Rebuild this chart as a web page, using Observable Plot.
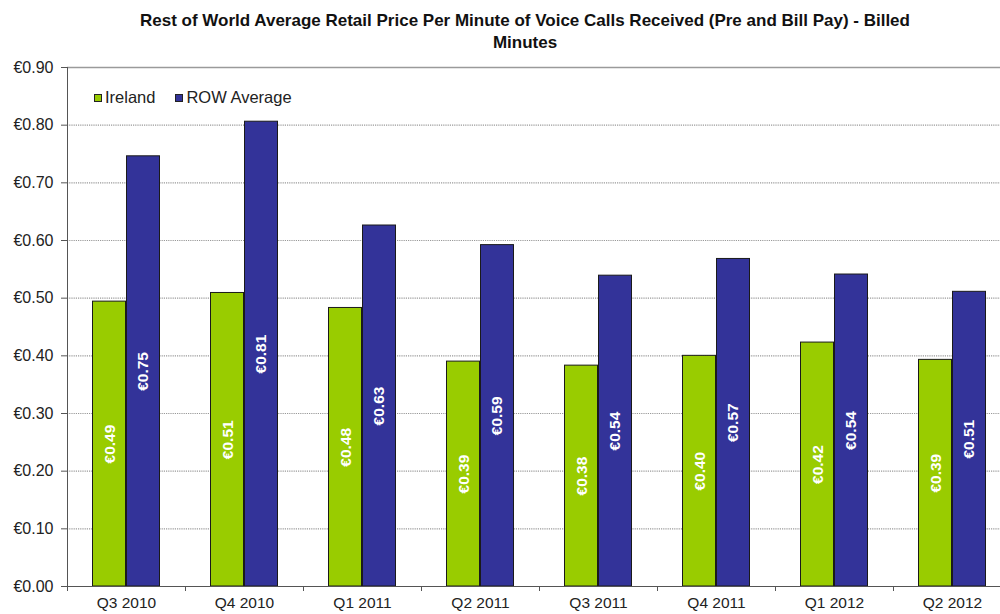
<!DOCTYPE html>
<html>
<head>
<meta charset="utf-8">
<script src="https://cdn.jsdelivr.net/npm/d3@7"></script>
<script src="https://cdn.jsdelivr.net/npm/@observablehq/plot@0.6"></script>
<style>
  html, body { margin: 0; padding: 0; background: #fff; overflow: hidden; }
  #wrap { position: relative; width: 1000px; height: 614px; font-family: "Liberation Sans", Arial, sans-serif; }
  #title { position: absolute; left: 25px; width: 1000px; top: 10px; text-align: center; font-weight: bold; font-size: 17px; line-height: 22px; color: #111; }
  #legend { position: absolute; left: 94px; top: 88px; font-size: 16.5px; color: #222; display: flex; gap: 20px; }
  #legend span.item { display: flex; align-items: center; }
  #legend span.sw { display: inline-block; width: 6px; height: 6px; border: 1px solid #222; margin-right: 3px; }
  #chart { position: absolute; left: 0; top: 55px; }
</style>
</head>
<body>
<div id="wrap">
  <div id="title">Rest of World Average Retail Price Per Minute of Voice Calls Received (Pre and Bill Pay) - Billed<br>Minutes</div>
  <div id="chart"></div>
  <div id="legend"></div>
</div>
<script>
const quarters = ["Q3 2010", "Q4 2010", "Q1 2011", "Q2 2011", "Q3 2011", "Q4 2011", "Q1 2012", "Q2 2012"];
const seriesNames = ["Ireland", "ROW Average"];
const ireland = [0.494, 0.509, 0.483, 0.390, 0.383, 0.400, 0.423, 0.393];
const rowAverage = [0.746, 0.806, 0.626, 0.592, 0.539, 0.568, 0.541, 0.511];
const yTicks = [0, 0.1, 0.2, 0.3, 0.4, 0.5, 0.6, 0.7, 0.8, 0.9];
const colors = ["#99cc00", "#333399"];

const irelandData = quarters.map((q, i) => ({quarter: q, value: ireland[i]}));
const rowData = quarters.map((q, i) => ({quarter: q, value: rowAverage[i]}));

const bandStep = 118;
const fmt = v => "€" + v.toFixed(2);

const chart = Plot.plot({
  width: 1000,
  height: 559,
  marginTop: 12,
  marginBottom: 28,
  marginLeft: 67,
  marginRight: 0,
  style: {fontFamily: "Liberation Sans, Arial, sans-serif", fontSize: "16px", color: "#222", background: "white"},
  x: {domain: quarters, range: [67, 67 + bandStep * quarters.length], padding: 0, label: null},
  y: {domain: [0, 0.9], label: null},
  marks: [
    Plot.ruleY(yTicks.filter(t => t > 0 && t < 0.9), {stroke: "#999", strokeDasharray: "1.2,1", strokeWidth: 1.2}),
    Plot.ruleY([0.9], {stroke: "#9a9a9a", strokeWidth: 1.6}),
    Plot.barY(irelandData, {x: "quarter", y: "value", fill: colors[0], stroke: "#1a1a1a", strokeWidth: 1, insetLeft: 25.5, insetRight: 59.5}),
    Plot.barY(rowData, {x: "quarter", y: "value", fill: colors[1], stroke: "#1a1a1a", strokeWidth: 1, insetLeft: 59.5, insetRight: 25.5}),
    Plot.text(irelandData, {x: "quarter", y: d => d.value / 2, text: d => fmt(d.value), rotate: -90, dx: -16.5, fill: "white", fontWeight: "bold", fontSize: 15.5}),
    Plot.text(rowData, {x: "quarter", y: d => d.value / 2, text: d => fmt(d.value), rotate: -90, dx: 17, fill: "white", fontWeight: "bold", fontSize: 15.5}),
    Plot.axisY({ticks: yTicks, tickFormat: fmt, tickSize: 6, tickPadding: 8, stroke: "#555", fill: "#222", fontSize: 16}),
    Plot.ruleX([quarters[0]], {dx: -bandStep / 2, stroke: "#555"}),
    Plot.ruleY([0], {stroke: "#555"}),
    Plot.axisX({tickSize: 0, tickPadding: 10, fill: "#222", fontSize: 15.5}),
    Plot.axisX({tickSize: 5, tickFormat: () => "", dx: -bandStep / 2, stroke: "#555"})
  ]
});
document.getElementById("chart").appendChild(chart);

const legend = document.getElementById("legend");
seriesNames.forEach((name, i) => {
  const item = document.createElement("span");
  item.className = "item";
  const sw = document.createElement("span");
  sw.className = "sw";
  sw.style.background = colors[i];
  item.appendChild(sw);
  item.appendChild(document.createTextNode(name));
  legend.appendChild(item);
});
</script>
</body>
</html>
